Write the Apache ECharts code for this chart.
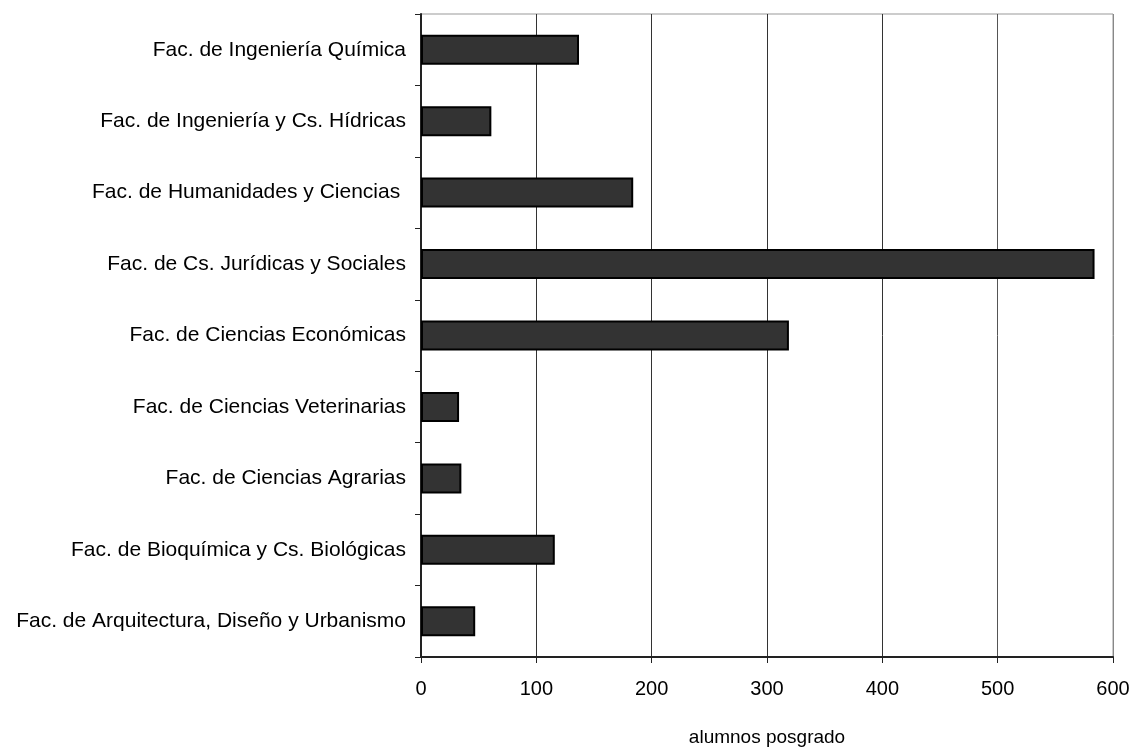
<!DOCTYPE html>
<html>
<head>
<meta charset="utf-8">
<script src="https://cdn.jsdelivr.net/npm/echarts@6/dist/echarts.min.js"></script>
<style>html,body{margin:0;padding:0;background:#fff;}#c{width:1133px;height:747px;}</style>
</head>
<body>
<div id="c"></div>
<script>
// bottom to top
const categories = [
  'Fac. de Arquitectura, Diseño y Urbanismo',
  'Fac. de Bioquímica y Cs. Biológicas',
  'Fac. de Ciencias Agrarias',
  'Fac. de Ciencias Veterinarias',
  'Fac. de Ciencias Económicas',
  'Fac. de Cs. Jurídicas y Sociales',
  'Fac. de Humanidades y Ciencias ',
  'Fac. de Ingeniería y Cs. Hídricas',
  'Fac. de Ingeniería Química'
];
const values = [47, 116, 35, 33, 319, 584, 184, 61, 137];
const xTicks = [0, 100, 200, 300, 400, 500, 600];
const axisName = 'alumnos posgrado';

const chart = echarts.init(document.getElementById('c'));
const font = '"Liberation Sans", Arial, sans-serif';
chart.setOption({
  animation: false,
  backgroundColor: '#fff',
  grid: {left: 421, right: 20, top: 14, bottom: 90, outerBoundsMode: 'none', containLabel: false,
         show: true, borderColor: '#999', borderWidth: 1},
  xAxis: {
    type: 'value', min: xTicks[0], max: xTicks[xTicks.length - 1], interval: 100,
    name: axisName, nameLocation: 'middle', nameGap: 71,
    nameTextStyle: {fontFamily: font, fontSize: 19, color: '#000'},
    axisLine: {show: true, lineStyle: {color: '#222', width: 2}},
    axisTick: {show: true, length: 6, lineStyle: {color: '#222'}},
    axisLabel: {fontFamily: font, fontSize: 20, color: '#000', margin: 22},
    splitLine: {show: true, lineStyle: {color: ['#333', '#333', '#333', '#333', '#333', '#555', '#888'], width: 1}}
  },
  yAxis: {
    type: 'category', data: categories,
    axisLine: {show: true, lineStyle: {color: '#222', width: 2}},
    axisTick: {show: true, length: 6, lineStyle: {color: '#222'}},
    axisLabel: {fontFamily: font, fontSize: 21, color: '#000', margin: 15},
    splitLine: {show: false}
  },
  series: [{
    type: 'bar', data: values, barWidth: '42%',
    itemStyle: {color: '#333333', borderColor: '#000', borderWidth: 2}
  }]
});
</script>
</body>
</html>
